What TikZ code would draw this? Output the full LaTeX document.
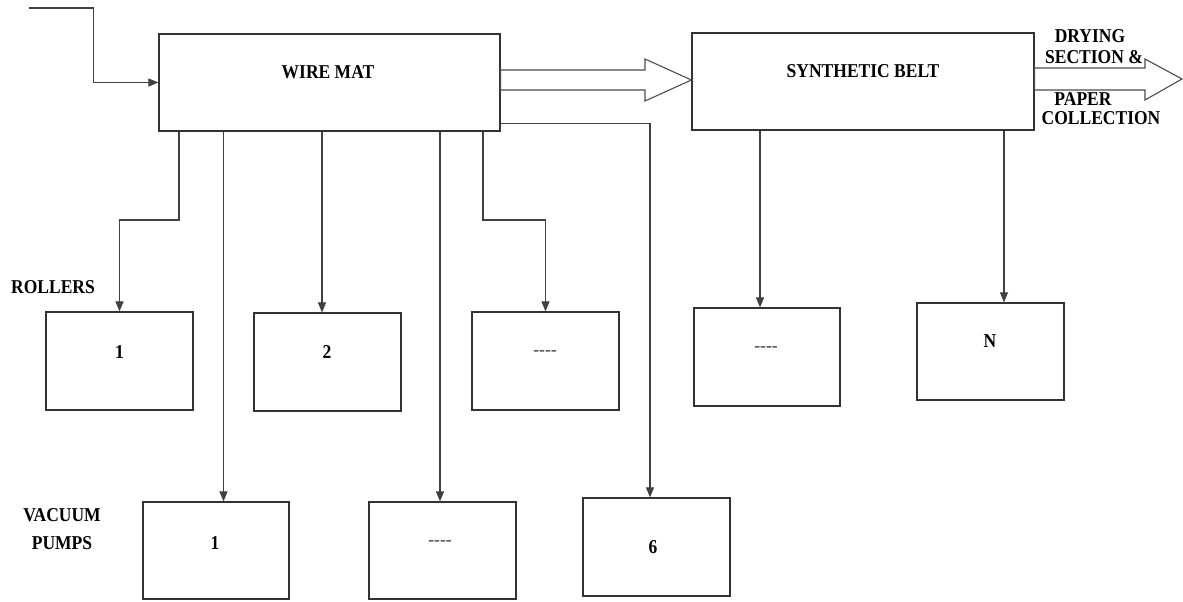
\documentclass[tikz,border=0pt]{standalone}
\usepackage{fontspec}
\usepackage{graphicx}
\setmainfont{Liberation Serif}
\usetikzlibrary{arrows.meta,calc}
\newcommand{\tall}[1]{\scalebox{1}[1.12]{#1}}
\newcommand{\dashes}{{-}{-}{-}{-}}
\begin{document}
\begin{tikzpicture}[x=1pt,y=-1pt,
  lbl/.style={font=\fontsize{17.5}{20}\selectfont\bfseries, inner sep=0pt, text=black},
  dsh/.style={font=\fontsize{17.5}{20}\selectfont, inner sep=0pt, text=black!80},
  blk/.style={draw=black!80, line width=1.2pt, rectangle, inner sep=0pt},
  arr/.style={draw=black!75, line width=1.1pt, -{Triangle[length=10pt,width=8pt]}},
  hollow/.style={draw=black!70, line width=1.1pt, fill=white}]
\useasboundingbox (0,0) rectangle (1183,602);
% main blocks
\node[blk, minimum width=341pt, minimum height=97pt] (wire) at (329.5,82.5) {};
\node[blk, minimum width=342pt, minimum height=97pt] (belt) at (863,81.5) {};
\node[lbl] (wiret) at (328,72) {\tall{WIRE MAT}};
\node[lbl] (beltt) at (863,71) {\tall{SYNTHETIC BELT}};
% rollers
\node[blk, minimum width=147pt, minimum height=98pt] (r1) at (119.5,361) {};
\node[blk, minimum width=147pt, minimum height=98pt] (r2) at (327.5,362) {};
\node[blk, minimum width=147pt, minimum height=98pt] (r3) at (545.5,361) {};
\node[blk, minimum width=146pt, minimum height=98pt] (b1) at (767,357) {};
\node[blk, minimum width=147pt, minimum height=97pt] (bN) at (990.5,351.5) {};
\node[lbl] (r1t) at (119.5,352) {\tall{1}};
\node[lbl] (r2t) at (327,352) {\tall{2}};
\node[dsh] (r3t) at (545,353) {\dashes};
\node[dsh] (b1t) at (766,349) {\dashes};
\node[lbl] (bNt) at (990,341) {\tall{N}};
% vacuum pumps
\node[blk, minimum width=146pt, minimum height=97pt] (p1) at (216,550.5) {};
\node[blk, minimum width=147pt, minimum height=97pt] (p2) at (442.5,550.5) {};
\node[blk, minimum width=147pt, minimum height=98pt] (p6) at (656.5,547) {};
\node[lbl] (p1t) at (215,543) {\tall{1}};
\node[dsh] (p2t) at (440,543) {\dashes};
\node[lbl] (p6t) at (653,547) {\tall{6}};
% side labels
\node[lbl] (rol) at (53,287) {\tall{ROLLERS}};
\node[lbl] (vac) at (62,515) {\tall{VACUUM}};
\node[lbl] (pum) at (62,543) {\tall{PUMPS}};
\node[lbl] (dry) at (1090,36) {\tall{DRYING}};
\node[lbl] (sec) at (1094,57) {\tall{SECTION \&}};
\node[lbl] (pap) at (1083,99) {\tall{PAPER}};
\node[lbl] (col) at (1101,118) {\tall{COLLECTION}};
% input
\coordinate (in0) at (29,8);
\coordinate (in1) at (93.5,8);
\draw[arr] (in0) -- (in1) |- (wire.west);
% hollow arrows
\draw[hollow] (wire.east |- 0,70) -- (645,70) -- (645,59) -- (belt.west |- 0,80)
  -- (645,101) -- (645,90) -- (wire.east |- 0,90) -- cycle;
\coordinate (out) at (1182,79);
\draw[hollow] (belt.east |- 0,68) -- (1145,68) -- (1145,59) -- (out)
  -- (1145,100) -- (1145,90) -- (belt.east |- 0,90) -- cycle;
% connector columns
\coordinate (c1) at (179,220);
\coordinate (c2) at (322,0);
\coordinate (c3) at (483,220);
\coordinate (v1) at (223.5,0);
\coordinate (v2) at (440,0);
\coordinate (v6) at (650,123.5);
\coordinate (s1) at (760,0);
\coordinate (s2) at (1004,0);
\draw[arr] (wire.south -| c1) -- (c1) -| (r1.north);
\draw[arr] (wire.south -| c2) -- (r2.north -| c2);
\draw[arr] (wire.south -| c3) -- (c3) -| (r3.north);
\draw[arr] (wire.south -| v1) -- (p1.north -| v1);
\draw[arr] (wire.south -| v2) -- (p2.north -| v2);
\draw[arr] (wire.east |- v6) -- (v6) -- (p6.north -| v6);
\draw[arr] (belt.south -| s1) -- (b1.north -| s1);
\draw[arr] (belt.south -| s2) -- (bN.north -| s2);
\end{tikzpicture}
\end{document}
